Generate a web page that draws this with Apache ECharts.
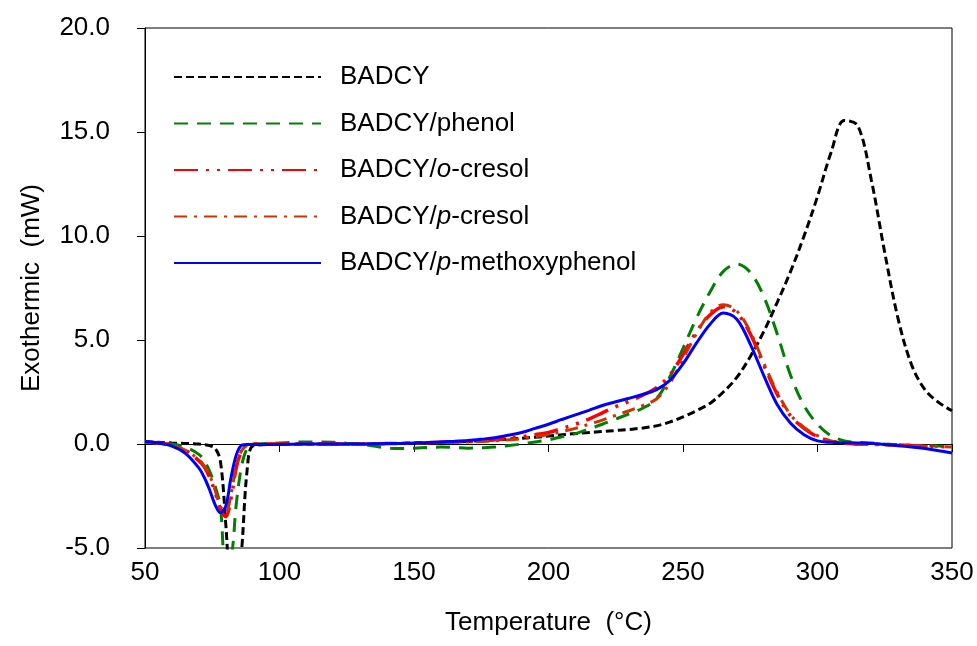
<!DOCTYPE html>
<html>
<head>
<meta charset="utf-8">
<script src="https://cdn.jsdelivr.net/npm/echarts@6/dist/echarts.min.js"></script>
<style>
  html, body { margin: 0; padding: 0; background: #fff; }
  #chart { width: 977px; height: 646px; }
</style>
</head>
<body>
<div id="chart"></div>
<script>
// temperature (°C): dense through the melting dip, then every 5 °C
var temps = [50, 55, 60, 65, 70, 72, 74, 76, 78, 80, 82, 84, 86, 88,
  90, 95, 100, 105, 110, 115, 120, 125, 130, 135,
  140, 145, 150, 155, 160, 165, 170, 175, 180, 185,
  190, 195, 200, 205, 210, 215, 220, 225, 230, 235,
  240, 245, 250, 255, 260, 265, 270, 275, 280, 285,
  290, 295, 300, 305, 310, 315, 320, 325, 330, 335,
  340, 345, 350];

// heat flow (mW)
var badcy = [0.1, 0.08, 0.05, 0.03, 0.0, -0.03, -0.08, -0.2, -0.8, -3.8, -7.5, -8.0, -5.0, -1.2,
  -0.1, -0.03, -0.02, -0.01, 0, 0, 0, 0, 0, 0.01,
  0.02, 0.03, 0.05, 0.06, 0.08, 0.1, 0.12, 0.16, 0.2, 0.24,
  0.28, 0.33, 0.38, 0.44, 0.5, 0.55, 0.6, 0.65, 0.7, 0.77,
  0.87, 1.05, 1.3, 1.6, 1.95, 2.5, 3.2, 4.2, 5.4, 6.8,
  8.3, 10.0, 11.9, 14.0, 15.55, 15.3, 12.7, 9.2, 6.0, 3.8,
  2.6, 2.0, 1.6];
var phenol = [0.08, 0.05, 0.0, -0.15, -0.5, -0.8, -1.3, -2.0, -3.0, -5.8, -5.5, -2.8, -1.0, -0.2,
  0.0, 0.02, 0.05, 0.08, 0.1, 0.1, 0.08, 0.04, 0.0, -0.1,
  -0.2, -0.22, -0.2, -0.17, -0.15, -0.17, -0.2, -0.18, -0.15, -0.08,
  0.0, 0.1, 0.2, 0.35, 0.5, 0.72, 0.95, 1.2, 1.45, 1.72,
  2.15, 3.2, 4.6, 6.05, 7.3, 8.3, 8.65, 8.25, 7.1, 5.3,
  3.3, 1.85, 0.95, 0.4, 0.15, 0.08, 0.05, 0.0, -0.03, -0.06,
  -0.08, -0.1, -0.12];
var oCresol = [0.1, 0.05, -0.05, -0.3, -0.8, -1.1, -1.6, -2.3, -3.1, -3.5, -2.6, -1.1, -0.3, -0.05,
  0, 0, 0, 0, 0, 0, 0, 0, 0, 0.01,
  0.02, 0.03, 0.05, 0.06, 0.08, 0.1, 0.12, 0.16, 0.2, 0.27,
  0.35, 0.45, 0.55, 0.75, 0.95, 1.2, 1.5, 1.8, 2.05, 2.35,
  2.7, 3.3, 4.3, 5.4, 6.2, 6.6, 6.3, 5.3, 3.8, 2.4,
  1.35, 0.75, 0.35, 0.15, 0.05, 0.0, 0.0, -0.02, -0.05, -0.08,
  -0.1, -0.12, -0.14];
var pCresol = [0.1, 0.05, -0.05, -0.3, -0.75, -1.05, -1.5, -2.2, -3.0, -3.3, -2.4, -1.0, -0.3, -0.05,
  0, 0, 0, 0, 0, 0, 0, 0, 0, 0.01,
  0.02, 0.03, 0.04, 0.05, 0.07, 0.08, 0.1, 0.12, 0.15, 0.2,
  0.25, 0.35, 0.45, 0.6, 0.75, 0.95, 1.15, 1.38, 1.6, 1.85,
  2.15, 2.9, 4.1, 5.3, 6.3, 6.7, 6.4, 5.4, 3.9, 2.5,
  1.4, 0.8, 0.4, 0.15, 0.03, -0.02, -0.03, -0.05, -0.07, -0.09,
  -0.1, -0.12, -0.14];
var methoxy = [0.12, 0.05, -0.1, -0.45, -1.15, -1.6, -2.2, -2.9, -3.3, -3.0, -1.6, -0.5, -0.05, -0.02,
  -0.02, -0.02, -0.02, -0.01, 0, 0, 0, 0, 0, 0.01,
  0.02, 0.03, 0.05, 0.07, 0.1, 0.13, 0.17, 0.23, 0.3, 0.42,
  0.55, 0.75, 0.95, 1.18, 1.4, 1.62, 1.85, 2.03, 2.2, 2.38,
  2.6, 3.05, 3.85, 4.85, 5.75, 6.3, 6.0, 4.8, 3.3, 1.9,
  1.0, 0.45, 0.15, 0.08, 0.06, 0.05, 0.03, -0.02, -0.08, -0.15,
  -0.22, -0.32, -0.43];

var font = "'Liberation Sans', Arial, sans-serif";

function pairs(vals) {
  return temps.map(function (t, i) { return [t, vals[i]]; });
}

function makeSeries(name, vals, color, dash, width) {
  return {
    name: name,
    type: "line",
    data: pairs(vals),
    showSymbol: false,
    symbol: "none",
    smooth: 0.35,
    lineStyle: { color: color, width: width, type: dash },
    itemStyle: { color: color }
  };
}

var chart = echarts.init(document.getElementById("chart"));
chart.setOption({
  animation: false,
  backgroundColor: "#fff",
  grid: {
    left: 145,
    right: 25,
    top: 28,
    bottom: 98,
    show: true,
    borderColor: "#000",
    borderWidth: 1
  },
  legend: {
    orient: "vertical",
    left: 168,
    top: 59,
    itemWidth: 147,
    itemHeight: 14,
    itemGap: 20.5,
    itemStyle: { opacity: 0 },
    textStyle: {
      fontFamily: font,
      fontSize: 26,
      color: "#000",
      padding: [0, 0, 0, 14],
      rich: {
        i: { fontFamily: font, fontSize: 26, fontStyle: "italic", color: "#000" }
      }
    },
    formatter: function (name) {
      if (name === "BADCY/o-cresol") return "BADCY/{i|o}-cresol";
      if (name === "BADCY/p-cresol") return "BADCY/{i|p}-cresol";
      if (name === "BADCY/p-methoxyphenol") return "BADCY/{i|p}-methoxyphenol";
      return name;
    },
    data: ["BADCY", "BADCY/phenol", "BADCY/o-cresol", "BADCY/p-cresol", "BADCY/p-methoxyphenol"]
  },
  xAxis: {
    type: "value",
    min: 50,
    max: 350,
    interval: 50,
    name: "Temperature  (°C)",
    nameLocation: "middle",
    nameGap: 62,
    nameTextStyle: { fontFamily: font, fontSize: 26, color: "#000" },
    axisLine: { show: true, lineStyle: { color: "#000", width: 1 } },
    axisTick: { show: true, inside: false, length: 8, lineStyle: { color: "#000" } },
    axisLabel: { fontFamily: font, fontSize: 26, color: "#000", margin: 12 },
    splitLine: { show: false }
  },
  yAxis: {
    type: "value",
    min: -5,
    max: 20,
    interval: 5,
    name: "Exothermic  (mW)",
    nameLocation: "middle",
    nameGap: 100,
    nameTextStyle: { fontFamily: font, fontSize: 26, color: "#000" },
    axisLine: { show: true, lineStyle: { color: "#000", width: 1 } },
    axisTick: { show: true, inside: false, length: 8, lineStyle: { color: "#000" } },
    axisLabel: {
      fontFamily: font,
      fontSize: 26,
      color: "#000",
      margin: 35,
      formatter: function (v) { return v.toFixed(1); }
    },
    splitLine: { show: false }
  },
  series: [
    makeSeries("BADCY", badcy, "#000000", [8, 4], 3),
    makeSeries("BADCY/phenol", phenol, "#008000", [14, 9], 3),
    makeSeries("BADCY/o-cresol", oCresol, "#FF0000", [24, 8, 3, 8, 3, 8], 3.5),
    makeSeries("BADCY/p-cresol", pCresol, "#CC3300", [13, 7, 3, 7], 3),
    makeSeries("BADCY/p-methoxyphenol", methoxy, "#0000FF", "solid", 3)
  ]
});
</script>
</body>
</html>
